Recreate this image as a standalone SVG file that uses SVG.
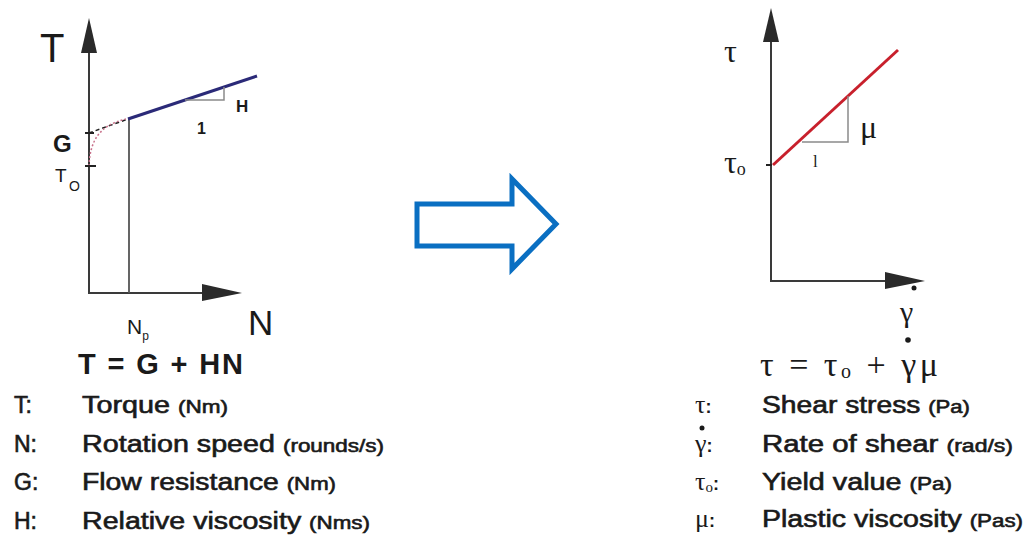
<svg xmlns="http://www.w3.org/2000/svg" width="1032" height="536" viewBox="0 0 1032 536">
<style>
.ax{stroke:#3a3a3a;stroke-width:2;fill:none}
.ah{fill:#2a2a2a;stroke:none}
.sans{font-family:"Liberation Sans",Arial,sans-serif;fill:#1a1a1a}
.serif{font-family:"Liberation Serif","DejaVu Serif",serif;fill:#1a1a1a}
.leg{font-family:"Liberation Sans",Arial,sans-serif;fill:#1a1a1a;stroke:#1a1a1a;stroke-width:0.6;font-size:23px}
.unit{font-size:18px}
.tri{stroke:#8a8a8a;stroke-width:1.5;fill:none}
</style>
<rect width="1032" height="536" fill="#ffffff"/>
<g id="left-chart">
  <line class="ax" x1="89" y1="50" x2="89" y2="293"/>
  <line class="ax" x1="88" y1="293" x2="205" y2="293"/>
  <polygon class="ah" points="89,18 81,53 97,53"/>
  <polygon class="ah" points="242,293 202,284 202,301"/>
  <line x1="129" y1="119" x2="129" y2="293" stroke="#555" stroke-width="1.8"/>
  <line x1="128" y1="119" x2="257" y2="76" stroke="#2b2a78" stroke-width="3"/>
  <line x1="89" y1="133" x2="128" y2="119" stroke="#222" stroke-width="1.5" stroke-dasharray="4 3"/>
  <path d="M89,166 C90,140 100,125 126,119" fill="none" stroke="#c8708a" stroke-width="1.5" stroke-dasharray="2 2"/>
  <line x1="85" y1="133" x2="94" y2="133" stroke="#222" stroke-width="2"/>
  <line x1="85" y1="166" x2="96" y2="166" stroke="#222" stroke-width="2"/>
  <polyline class="tri" points="185,100 224,100 224,87"/>
  <text class="sans" x="40" y="62" font-size="40">T</text>
  <text class="sans" x="53" y="152" font-size="24" font-weight="bold">G</text>
  <text class="sans" x="55" y="182" font-size="19">T<tspan font-size="14" x="69" y="191">O</tspan></text>
  <text class="sans" x="236" y="112" font-size="17" font-weight="bold">H</text>
  <text class="sans" x="197" y="134" font-size="16" font-weight="bold">1</text>
  <text class="sans" x="127" y="334" font-size="21">N<tspan font-size="12" dy="6">p</tspan></text>
  <text class="sans" x="248" y="335" font-size="35">N</text>
  <text class="sans" x="78" y="374" font-size="29" font-weight="bold" textLength="165" lengthAdjust="spacing">T = G + HN</text>
</g>
<g id="left-legend">
  <text class="leg" x="14" y="413">T:</text>
  <text class="leg" x="14" y="452">N:</text>
  <text class="leg" x="14" y="490">G:</text>
  <text class="leg" x="14" y="529">H:</text>
  <text class="leg" x="82" y="413" textLength="146" lengthAdjust="spacingAndGlyphs">Torque <tspan class="unit">(Nm)</tspan></text>
  <text class="leg" x="82" y="452" textLength="302" lengthAdjust="spacingAndGlyphs">Rotation speed <tspan class="unit">(rounds/s)</tspan></text>
  <text class="leg" x="82" y="490" textLength="254" lengthAdjust="spacingAndGlyphs">Flow resistance <tspan class="unit">(Nm)</tspan></text>
  <text class="leg" x="82" y="529" textLength="288" lengthAdjust="spacingAndGlyphs">Relative viscosity <tspan class="unit">(Nms)</tspan></text>
</g>
<g id="connectors">
  <polygon points="417,204 512,204 512,179 556,224 512,269 512,246 417,246" fill="#ffffff" stroke="#0a6fc2" stroke-width="5" stroke-linejoin="miter"/>
</g>
<g id="right-chart">
  <line class="ax" x1="771" y1="40" x2="771" y2="281"/>
  <line class="ax" x1="770" y1="281" x2="888" y2="281"/>
  <polygon class="ah" points="771,8 763,42 779,42"/>
  <polygon class="ah" points="925,281 885,272 885,289"/>
  <line x1="773" y1="165" x2="898" y2="50" stroke="#c8202c" stroke-width="3"/>
  <line x1="766" y1="165" x2="772" y2="165" stroke="#222" stroke-width="2"/>
  <polyline class="tri" points="802,142 848,142 848,96"/>
  <text class="serif" x="724" y="62" font-size="32">τ</text>
  <text class="serif" x="724" y="173" font-size="32">τ<tspan font-size="18" dy="2">o</tspan></text>
  <text class="serif" x="860" y="138" font-size="32">μ</text>
  <text class="serif" x="813" y="167" font-size="17">l</text>
  <circle cx="914" cy="288" r="2.5" fill="#1a1a1a"/>
  <text class="serif" x="900" y="322" font-size="30">γ</text>
  <circle cx="908" cy="340" r="2.8" fill="#1a1a1a"/>
  <text class="serif" x="760" y="376" font-size="34" textLength="178" lengthAdjust="spacing">τ = τ<tspan font-size="20" dy="2">o</tspan><tspan dy="-2"> + γμ</tspan></text>
</g>
<g id="right-legend">
  <text class="serif" x="695" y="413" font-size="26">τ<tspan class="sans" font-size="18" font-weight="bold">:</tspan></text>
  <circle cx="702" cy="428" r="2.5" fill="#1a1a1a"/>
  <text class="serif" x="695" y="452" font-size="26">γ<tspan class="sans" font-size="18" font-weight="bold">:</tspan></text>
  <text class="serif" x="695" y="490" font-size="26">τ<tspan font-size="15" dy="2">o</tspan><tspan class="sans" font-size="18" font-weight="bold" dy="-2">:</tspan></text>
  <text class="serif" x="695" y="527" font-size="26">μ<tspan class="sans" font-size="18" font-weight="bold">:</tspan></text>
  <text class="leg" x="762" y="413" textLength="208" lengthAdjust="spacingAndGlyphs">Shear stress <tspan class="unit">(Pa)</tspan></text>
  <text class="leg" x="762" y="452" textLength="251" lengthAdjust="spacingAndGlyphs">Rate of shear <tspan class="unit">(rad/s)</tspan></text>
  <text class="leg" x="762" y="490" textLength="190" lengthAdjust="spacingAndGlyphs">Yield value <tspan class="unit">(Pa)</tspan></text>
  <text class="leg" x="762" y="527" textLength="261" lengthAdjust="spacingAndGlyphs">Plastic viscosity <tspan class="unit">(Pas)</tspan></text>
</g>
</svg>
